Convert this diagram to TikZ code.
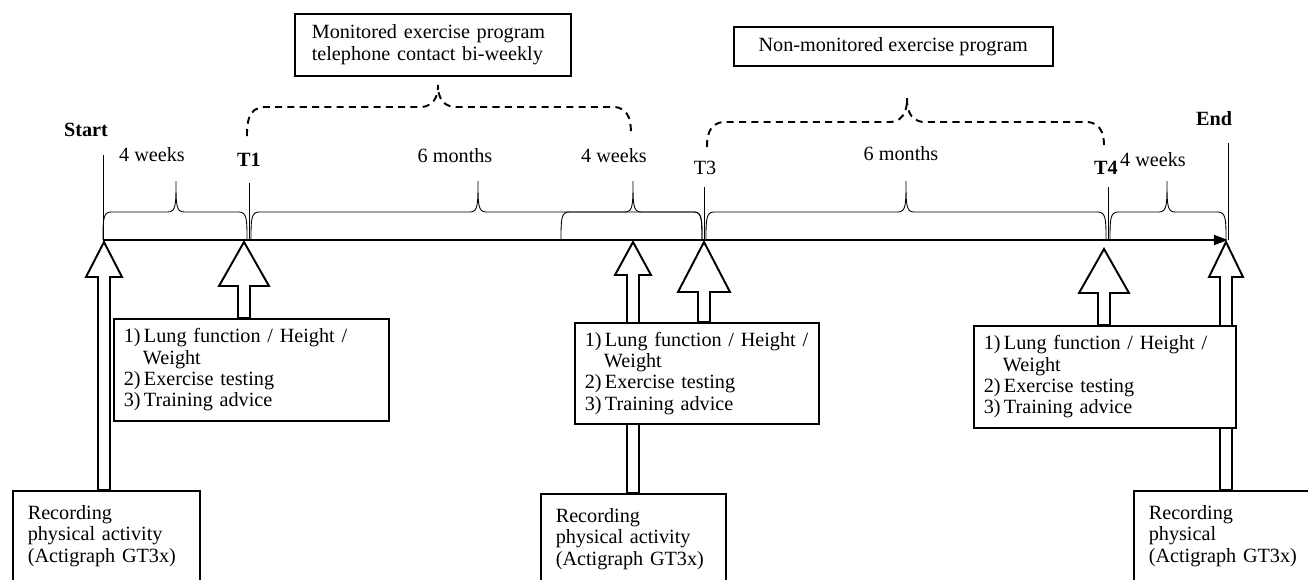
\documentclass[tikz,border=0pt]{standalone}
\usepackage{fontspec}
\setmainfont{Liberation Serif}
\usetikzlibrary{arrows.meta,calc,backgrounds}
\tikzset{
  txt/.style      ={font=\fontsize{11.5}{12.5}\selectfont, inner sep=0pt},
  ptlbl/.style    ={txt, font=\fontsize{11.5}{12.5}\selectfont\bfseries},
  timeax/.style   ={line width=1.6pt, -{Triangle[length=8pt,width=5.5pt]}},
  tickline/.style ={line width=0.5pt},
  durbrace/.style ={line width=0.5pt},
  progbrace/.style={line width=1.1pt, dash pattern=on 4pt off 3pt},
  hollow/.style   ={draw, line width=1.1pt, line join=miter, fill=white},
  boxbase/.style  ={draw, line width=0.9pt, fill=white, anchor=north west,
                    font=\fontsize{11.5}{12.2}\selectfont},
  progbox/.style  ={boxbase, inner xsep=0.34cm, align=left},
  measbox/.style  ={boxbase, inner xsep=0.2cm, align=left},
  recbox/.style   ={boxbase, inner xsep=0.3cm, align=left, text width=3.14cm,
                    minimum height=1.8cm},
}
% brace: style, x left, x right, x tip, y ends, y arms, y tip, curl
\newcommand{\spanbrace}[8]{%
  \draw[#1] (#2,#5) .. controls (#2,#6+#8) and (#2,#6) .. (#2+#8,#6)
    -- (#4-#8,#6) .. controls (#4,#6) and (#4,#6-#8) .. (#4,#7)
    .. controls (#4,#6-#8) and (#4,#6) .. (#4+#8,#6)
    -- (#3-#8,#6) .. controls (#3,#6) and (#3,#6+#8) .. (#3,#5);}
% hollow up arrow: from node, tip, head half width, head length
\newcommand{\bigup}[4]{%
  \draw[hollow] (#2) -- ++(#3,#4) -- ++(6-#3,0) coordinate (hr)
    -- (hr |- #1.north) -- ++(-12,0) coordinate (hl) -- (hl |- hr)
    -- ++(6-#3,0) -- cycle;}

\begin{document}
\begin{tikzpicture}[x=0.02cm, y=-0.02cm]
  \clip (0,0) rectangle (1308,579);

  % time points
  \coordinate (tS)  at (103,240);
  \coordinate (tT1) at (249,240);
  \coordinate (tT3) at (704,240);
  \coordinate (tT4) at (1108,240);
  \coordinate (tE)  at (1228,240);

  % arrow tips below the axis
  \coordinate (aS)  at (104,242);
  \coordinate (aT1) at (244,242);
  \coordinate (aM)  at (633,242);
  \coordinate (aT3) at (704,242);
  \coordinate (aT4) at (1104,249);
  \coordinate (aE)  at (1226,242);

  % programme boxes
  \node[progbox, text width=4.84cm, minimum height=1.24cm] (mon) at (294,13)
        {Monitored exercise program\\telephone contact bi-weekly};
  \node[progbox, align=center, minimum width=6.38cm, minimum height=0.78cm] (nonmon) at (733,26)
        {Non-monitored exercise program};

  % test boxes
  \node[measbox, text width=5.1cm, minimum height=2.04cm] (tests1) at (113,318)
        {1)\,Lung function / Height /\\\hspace*{0.95em}Weight\\2)\,Exercise testing\\3)\,Training advice};
  \node[measbox, text width=4.48cm, minimum height=2.02cm] (tests2) at (574,322)
        {1)\,Lung function / Height /\\\hspace*{0.95em}Weight\\2)\,Exercise testing\\3)\,Training advice};
  \node[measbox, text width=4.84cm, minimum height=2.04cm] (tests3) at (973,325)
        {1)\,Lung function / Height /\\\hspace*{0.95em}Weight\\2)\,Exercise testing\\3)\,Training advice};

  % recording boxes
  \node[recbox] (rec1) at (12,490)   {Recording\\physical activity\\(Actigraph GT3x)};
  \node[recbox, text width=3.1cm] (rec2) at (540,493) {Recording\\physical activity\\(Actigraph GT3x)};
  \node[recbox] (rec3) at (1133,490) {Recording\\physical\\(Actigraph GT3x)};

  \begin{scope}[on background layer]
    \bigup{rec1}{aS}{18}{35}
    \bigup{tests1}{aT1}{25}{44}
    \bigup{rec2}{aM}{18}{33}
    \bigup{tests2}{aT3}{26}{50}
    \bigup{tests3}{aT4}{25}{44}
    \bigup{rec3}{aE}{17}{35}
  \end{scope}

  % axis and ticks
  \draw[timeax] (tS) -- (tE);
  \draw[tickline] (tS) -- ++(0,-85);
  \draw[tickline] (tT1) -- ++(0,-57);
  \draw[tickline] (tT3) -- ++(0,-53);
  \draw[tickline] (tT4) -- ++(0,-53);
  \draw[tickline] (tE) -- ++(0,-97);

  \node[ptlbl] (lstart) at (86,130)  {Start};
  \node[ptlbl] (lt1)    at (249,160) {T1};
  \node[txt]   (lt3)    at (705,168) {T3};
  \node[ptlbl] (lt4)    at (1106,168) {T4};
  \node[ptlbl] (lend)   at (1214,119) {End};

  % durations
  \spanbrace{durbrace}{103}{247}{176}{240}{212}{181}{8}
  \spanbrace{durbrace}{251}{702}{478}{240}{212}{181}{8}
  \spanbrace{durbrace}{561}{702}{633}{240}{212}{181}{8}
  \spanbrace{durbrace}{706}{1106}{906}{240}{212}{181}{8}
  \spanbrace{durbrace}{1110}{1226}{1167}{240}{212}{181}{8}

  \node[txt] (d1) at (152,155)  {4 weeks};
  \node[txt] (d2) at (455,156)  {6 months};
  \node[txt] (d3) at (614,156)  {4 weeks};
  \node[txt] (d4) at (901,154)  {6 months};
  \node[txt] (d5) at (1153,160) {4 weeks};

  % programme periods
  \spanbrace{progbrace}{247}{631}{438}{136}{107}{85}{18}
  \spanbrace{progbrace}{707}{1104}{907}{147}{122}{98}{18}
\end{tikzpicture}
\end{document}
